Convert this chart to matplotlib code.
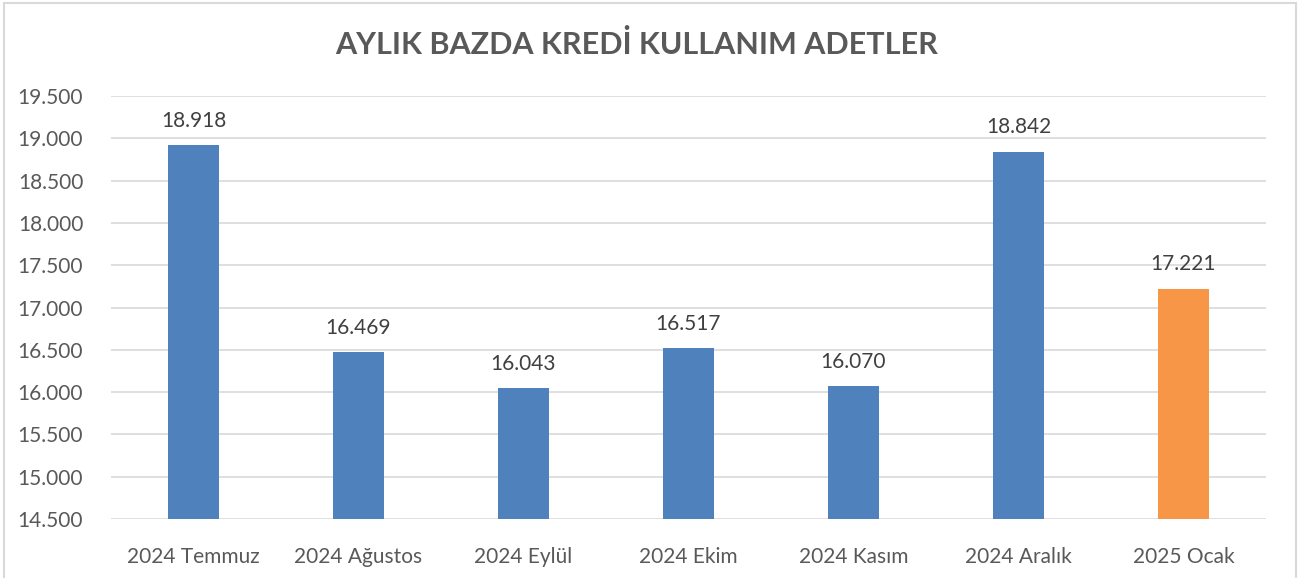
import matplotlib.pyplot as plt
from matplotlib.patches import Rectangle
from matplotlib.ticker import FuncFormatter

months = ['2024 Temmuz', '2024 Ağustos', '2024 Eylül', '2024 Ekim',
          '2024 Kasım', '2024 Aralık', '2025 Ocak']
counts = [18918, 16469, 16043, 16517, 16070, 18842, 17221]
colors = ['#4F81BD'] * 6 + ['#F79646']

yticks = list(range(14500, 20000, 500))


def tr_num(v, pos=None):
    # turkish thousands separator
    return f'{int(v):,}'.replace(',', '.')


plt.rcParams['font.family'] = ['Lato', 'DejaVu Sans']

W, H = 1307, 578
fig = plt.figure(figsize=(W / 100, H / 100), dpi=100)
ax = fig.add_axes([111 / W, 1 - 519 / H, (1266 - 111) / W, (519 - 96) / H])

x = range(len(months))
bars = ax.bar(x, counts, width=0.31, color=colors, zorder=3)
for b, v in zip(bars, counts):
    ax.text(b.get_x() + b.get_width() / 2, v + 170, tr_num(v),
            ha='center', va='bottom', fontsize=15, color='#404040')

ax.set_ylim(14500, 19500)
ax.set_xlim(-0.5, len(months) - 0.5)
ax.set_yticks(yticks)
ax.yaxis.set_major_formatter(FuncFormatter(tr_num))
ax.set_xticks(list(x))
ax.set_xticklabels(months)
ax.tick_params(axis='both', length=0, labelsize=15, colors='#595959')
ax.tick_params(axis='x', pad=20)
ax.tick_params(axis='y', pad=20)
ax.grid(axis='y', color='#D9D9D9', linewidth=1.2, zorder=0)
for s in ax.spines.values():
    s.set_visible(False)

fig.text(637 / W, 1 - 45 / H, 'AYLIK BAZDA KREDİ KULLANIM ADETLER',
         ha='center', va='center', fontsize=22, fontweight='bold', color='#595959')

fig.patches.append(Rectangle((4 / W, -0.05), (1296 - 4) / W, 1.05 - 3 / H,
                             transform=fig.transFigure, fill=False,
                             edgecolor='#D9D9D9', linewidth=1.5))

fig.savefig('out.png', dpi=100)
